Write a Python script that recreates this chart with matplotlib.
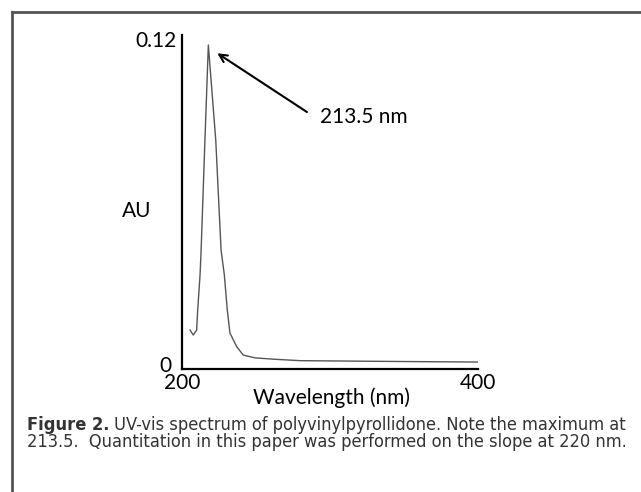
import matplotlib
matplotlib.use('Agg')
import matplotlib.pyplot as plt
from matplotlib import font_manager
from matplotlib.lines import Line2D
from matplotlib.transforms import ScaledTranslation

# spectrum
wavelength = [205.4, 207.6, 209.9, 210.6, 212.2, 212.8, 215.5, 217.8,
              222.8, 226.4, 228.6, 230.6, 232.4, 237.0, 241.4, 249.3,
              262.8, 279.7, 347.3, 400.0]
absorbance = [0.0141, 0.0123, 0.0141, 0.0213, 0.0339, 0.0410, 0.0823, 0.1164,
              0.0823, 0.0428, 0.0339, 0.0213, 0.0130, 0.0081, 0.0051, 0.0041,
              0.0036, 0.0031, 0.0028, 0.0026]
x_ticks = [200, 400]
y_ticks = [0, 0.12]
y_tick_labels = ['0', '0.12']
peak_label = '213.5 nm'
arrow_head = (222.3, 0.114)
arrow_tail = (286.0, 0.0918)
caption_bold = 'Figure 2.'
caption_1 = ' UV-vis spectrum of polyvinylpyrollidone. Note the maximum at'
caption_2 = '213.5.  Quantitation in this paper was performed on the slope at 220 nm.'

fonts = font_manager.fontManager.ttflist
names = {f.name for f in fonts}
chart_font = 'Lato' if 'Lato' in names else 'DejaVu Sans'
if 'Liberation Sans Narrow' in names:
    cap_font, cap_stretch = 'Liberation Sans Narrow', 'normal'
elif any(f.name == 'DejaVu Sans' and f.stretch == 'condensed' for f in fonts):
    cap_font, cap_stretch = 'DejaVu Sans', 'condensed'
else:
    cap_font, cap_stretch = 'DejaVu Sans', 'normal'

fig = plt.figure(figsize=(6.41, 4.92), dpi=100)
W, H = 641.0, 492.0

# frame around the figure (open to the right and bottom)
fig.add_artist(Line2D([12 / W, 12 / W], [0, 1 - 12 / H], color='#555555', lw=2))
fig.add_artist(Line2D([12 / W, 1], [1 - 12 / H, 1 - 12 / H], color='#555555', lw=2))

fs_chart = 15
ax = fig.add_axes([182 / W, 1 - 369.3 / H, 296 / W, 334.3 / H])
ax.plot(wavelength, absorbance, color='#555555', lw=1)
ax.set_xlim(200, 400)
ax.set_ylim(0, 0.12)
for s in ['top', 'right']:
    ax.spines[s].set_visible(False)
for s in ['left', 'bottom']:
    ax.spines[s].set_linewidth(1.6)
ax.set_xticks(x_ticks)
ax.set_xticklabels([str(t) for t in x_ticks], fontsize=fs_chart, family=chart_font)
ax.set_yticks(y_ticks)
ax.set_yticklabels(y_tick_labels, fontsize=fs_chart, family=chart_font)
ax.tick_params(length=0)
ax.tick_params(axis='x', pad=3)
ax.tick_params(axis='y', pad=4)

# nudge the y labels the way the original sits them
ylabs = ax.get_yticklabels()
ylabs[0].set_transform(ylabs[0].get_transform() + ScaledTranslation(-5 / 100, 5 / 100, fig.dpi_scale_trans))
ylabs[1].set_transform(ylabs[1].get_transform() + ScaledTranslation(0, -4 / 100, fig.dpi_scale_trans))

ax.set_xlabel('Wavelength (nm)', fontsize=fs_chart, family=chart_font)
ax.xaxis.set_label_coords(0.505, -0.053)
ax.set_ylabel('AU', fontsize=fs_chart, family=chart_font, rotation=0, va='center', ha='center')
ax.yaxis.set_label_coords(-0.152, 0.4735)

ax.annotate('', xy=arrow_head, xytext=arrow_tail,
            arrowprops=dict(arrowstyle='->', lw=1.5, color='black', mutation_scale=14))
ax.text(293.2, 0.0906, peak_label, fontsize=fs_chart, family=chart_font, va='center', ha='left')

# caption: fit the first line between the frame and the right margin
renderer = fig.canvas.get_renderer()
kw = dict(family=cap_font, fontstretch=cap_stretch, color='#333333', va='center')
pb = fig.text(0, 0, caption_bold, fontsize=10, weight='bold', **kw)
pn = fig.text(0, 0, caption_1, fontsize=10, **kw)
w10 = pb.get_window_extent(renderer=renderer).width + pn.get_window_extent(renderer=renderer).width
pb.remove()
pn.remove()
fs = 10 * 601 / w10

t1 = fig.text(27 / W, 1 - 425 / H, caption_bold, fontsize=fs, weight='bold', **kw)
bb = t1.get_window_extent(renderer=renderer)
fig.text(bb.x1 / W, 1 - 425 / H, caption_1, fontsize=fs, **kw)
fig.text(27 / W, 1 - 442 / H, caption_2, fontsize=fs, **kw)

fig.savefig('out.png', dpi=100)
